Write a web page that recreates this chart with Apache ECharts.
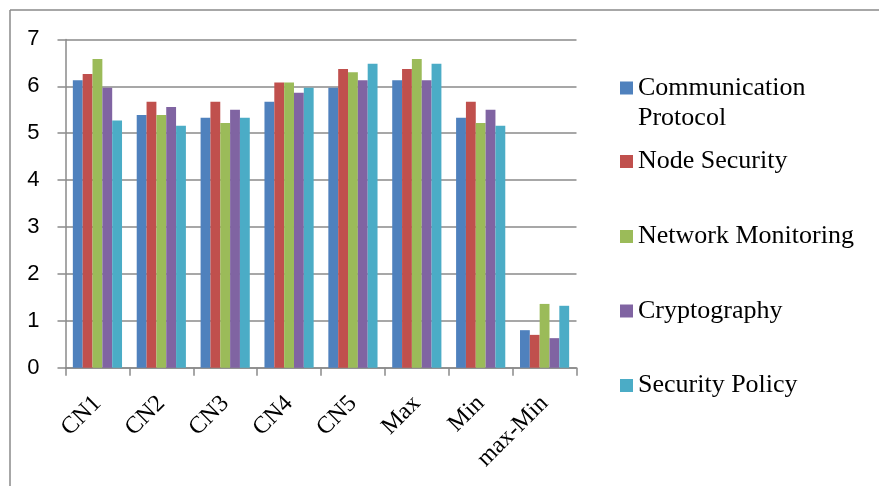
<!DOCTYPE html>
<html>
<head>
<meta charset="utf-8">
<script src="https://cdn.jsdelivr.net/npm/echarts@6/dist/echarts.min.js"></script>
<style>
  html, body { margin: 0; padding: 0; background: #fff; }
  #chart { width: 879px; height: 486px; }
</style>
</head>
<body>
<div id="chart"></div>
<script>
// Groups along the x axis
const categories = ['CN1', 'CN2', 'CN3', 'CN4', 'CN5', 'Max', 'Min', 'max-Min'];

// Scores per group for each security aspect
const communicationProtocol = [6.13, 5.39, 5.33, 5.67, 5.97, 6.13, 5.33, 0.80];
const nodeSecurity          = [6.26, 5.67, 5.67, 6.08, 6.37, 6.37, 5.67, 0.70];
const networkMonitoring     = [6.58, 5.39, 5.22, 6.08, 6.30, 6.58, 5.22, 1.36];
const cryptography          = [5.97, 5.56, 5.50, 5.86, 6.13, 6.13, 5.50, 0.63];
const securityPolicy        = [5.27, 5.16, 5.33, 5.97, 6.48, 6.48, 5.16, 1.32];

const seriesNames = ['Communication Protocol', 'Node Security', 'Network Monitoring', 'Cryptography', 'Security Policy'];
const seriesData = [communicationProtocol, nodeSecurity, networkMonitoring, cryptography, securityPolicy];
const colors = ['#4F81BD', '#C0504D', '#9BBB59', '#8064A2', '#4BACC6'];

// y-axis ticks
const yMin = 0, yMax = 7, yStep = 1;

const axisGray = '#8a8a8a';
const serif = '"Liberation Serif", "Times New Roman", serif';
const sans = '"Liberation Sans", Arial, sans-serif';

// one legend block per series so each entry sits at its own height;
// the long first name wraps, with a blank leading line so the swatch
// lines up with its first line of text
const legendTops = [43, 146.5, 221.5, 296, 370.5];
const legends = seriesNames.map((name, i) => ({
  data: [name],
  orient: 'vertical',
  left: 620,
  top: legendTops[i],
  padding: 0,
  itemWidth: 13,
  itemHeight: 13,
  icon: 'rect',
  selectedMode: false,
  formatter: n => n === 'Communication Protocol' ? '\nCommunication\nProtocol' : n,
  textStyle: {
    fontFamily: serif,
    fontSize: 26,
    lineHeight: 30,
    color: '#000'
  }
}));

const chart = echarts.init(document.getElementById('chart'), null, { renderer: 'canvas' });

chart.setOption({
  animation: false,
  backgroundColor: '#fff',
  color: colors,
  grid: { left: 65.5, top: 39.4, width: 511, height: 328.3, containLabel: false },
  legend: legends,
  xAxis: {
    type: 'category',
    data: categories,
    axisLine: { show: true, lineStyle: { color: axisGray, width: 1.5 } },
    axisTick: { show: true, length: 8, lineStyle: { color: axisGray, width: 1.5 } },
    axisLabel: {
      rotate: 45,
      margin: 32,
      interval: 0,
      fontFamily: serif,
      fontSize: 24,
      color: '#000'
    }
  },
  yAxis: {
    type: 'value',
    min: yMin,
    max: yMax,
    interval: yStep,
    axisLine: { show: true, lineStyle: { color: axisGray, width: 1.5 } },
    axisTick: { show: true, length: 8, lineStyle: { color: axisGray, width: 1.5 } },
    splitLine: { show: true, lineStyle: { color: axisGray, width: 1.5 } },
    axisLabel: {
      margin: 26,
      fontFamily: sans,
      fontSize: 22,
      color: '#000'
    }
  },
  series: seriesNames.map((name, i) => ({
    name,
    type: 'bar',
    data: seriesData[i],
    barGap: '0%',
    barCategoryGap: '23%',
    itemStyle: { color: colors[i] }
  })),
  graphic: [
    { type: 'line', shape: { x1: 10, y1: 10, x2: 879, y2: 10 }, style: { stroke: axisGray, lineWidth: 1.5 }, silent: true },
    { type: 'line', shape: { x1: 10, y1: 10, x2: 10, y2: 486 }, style: { stroke: axisGray, lineWidth: 1.5 }, silent: true }
  ]
});
</script>
</body>
</html>
